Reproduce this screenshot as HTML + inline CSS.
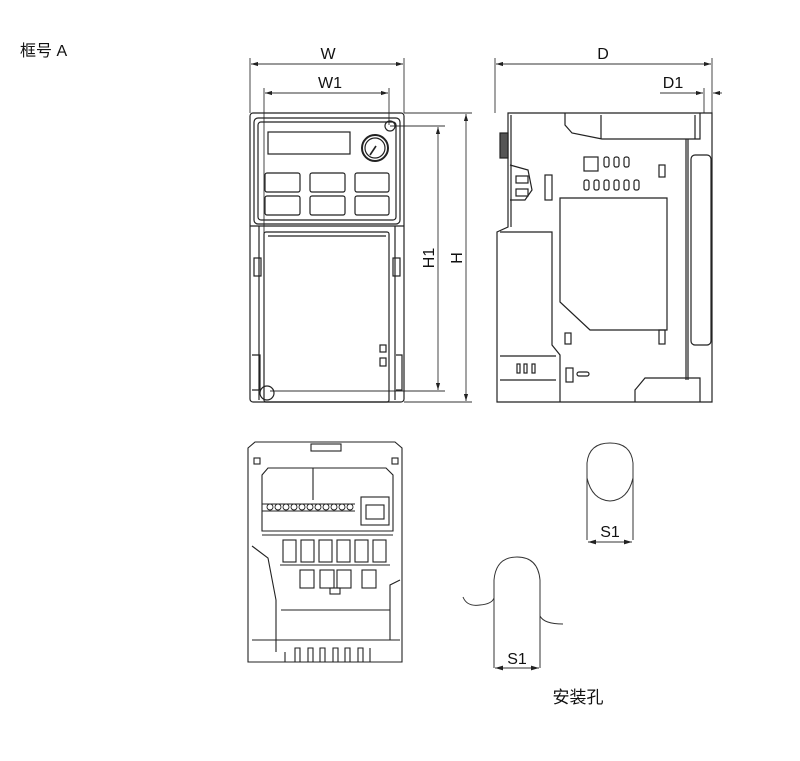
<!DOCTYPE html>
<html><head><meta charset="utf-8"><style>
html,body{margin:0;padding:0;background:#fff;}
svg{display:block;}
text{font-family:"Liberation Sans","Noto Sans CJK SC",sans-serif;fill:#111;}
</style></head><body>
<svg width="800" height="761" viewBox="0 0 800 761" xmlns="http://www.w3.org/2000/svg">
<defs>
<marker id="a" viewBox="0 0 10 6" refX="10" refY="3" markerWidth="8" markerHeight="5" orient="auto-start-reverse"><path d="M0,0L10,3L0,6z" fill="#222"/></marker>
</defs>
<text x="20" y="56" font-size="16">框号 A</text>

<!-- FRONT VIEW dims -->
<g stroke="#333" stroke-width="0.9" fill="none">
<line x1="250" y1="58" x2="250" y2="113"/><line x1="404" y1="58" x2="404" y2="113"/>
<line x1="251" y1="64" x2="403" y2="64" marker-start="url(#a)" marker-end="url(#a)"/>
<line x1="264" y1="88" x2="264" y2="400"/><line x1="389" y1="88" x2="389" y2="125"/>
<line x1="265" y1="93" x2="388" y2="93" marker-start="url(#a)" marker-end="url(#a)"/>
<line x1="390" y1="126" x2="445" y2="126"/><line x1="270" y1="391" x2="445" y2="391"/>
<line x1="438" y1="127" x2="438" y2="390" marker-start="url(#a)" marker-end="url(#a)"/>
<line x1="404" y1="113" x2="472" y2="113"/><line x1="404" y1="402" x2="472" y2="402"/>
<line x1="466" y1="114" x2="466" y2="401" marker-start="url(#a)" marker-end="url(#a)"/>
</g>
<text x="328" y="59" font-size="16" text-anchor="middle">W</text>
<text x="330" y="88" font-size="16" text-anchor="middle">W1</text>
<text transform="translate(434,258) rotate(-90)" font-size="16" text-anchor="middle">H1</text>
<text transform="translate(462,258) rotate(-90)" font-size="16" text-anchor="middle">H</text>

<!-- FRONT VIEW body -->
<g stroke="#222" stroke-width="1.2" fill="none">
<rect x="250" y="113" width="154" height="289" rx="3"/>
<rect x="254" y="118" width="146" height="106" rx="4"/>
<rect x="258" y="122" width="138" height="98" rx="3"/>
<rect x="268" y="132" width="82" height="22"/>
<circle cx="375" cy="148" r="13" stroke-width="2"/>
<circle cx="375" cy="148" r="10"/>
<line x1="370" y1="155" x2="376" y2="146" stroke-width="1.6"/>
<circle cx="390" cy="126" r="5"/>
<rect x="265" y="173" width="35" height="19" rx="2"/><rect x="310" y="173" width="35" height="19" rx="2"/><rect x="355" y="173" width="34" height="19" rx="2"/>
<rect x="265" y="196" width="35" height="19" rx="2"/><rect x="310" y="196" width="35" height="19" rx="2"/><rect x="355" y="196" width="34" height="19" rx="2"/>
<line x1="250" y1="226" x2="404" y2="226"/>
<rect x="264" y="232" width="125" height="170" rx="2"/>
<line x1="268" y1="236" x2="386" y2="236"/>
<rect x="254" y="258" width="7" height="18"/><rect x="393" y="258" width="7" height="18"/>
<line x1="259" y1="226" x2="259" y2="400"/><line x1="395" y1="226" x2="395" y2="400"/>
<path d="M252,355 h8 v35 h-8 M396,355 h6 v35 h-6"/>
<rect x="380" y="345" width="6" height="7"/><rect x="380" y="358" width="6" height="8"/>
<circle cx="267" cy="393" r="7"/>
</g>

<!-- SIDE VIEW dims -->
<g stroke="#333" stroke-width="0.9" fill="none">
<line x1="495" y1="58" x2="495" y2="113"/><line x1="712" y1="58" x2="712" y2="113"/>
<line x1="496" y1="64" x2="711" y2="64" marker-start="url(#a)" marker-end="url(#a)"/>
<line x1="704" y1="88" x2="704" y2="113"/>
<line x1="660" y1="93" x2="703" y2="93" marker-end="url(#a)"/>
<line x1="722" y1="93" x2="713" y2="93" marker-end="url(#a)"/>
</g>
<text x="603" y="59" font-size="16" text-anchor="middle">D</text>
<text x="673" y="88" font-size="16" text-anchor="middle">D1</text>

<!-- SIDE VIEW body -->
<g stroke="#222" stroke-width="1.2" fill="none">
<path d="M508,113 H712 V402 H497 V232 L508,227 Z"/>
<line x1="511" y1="115" x2="511" y2="227"/>
<rect x="500" y="133" width="8" height="25" fill="#555"/>
<path d="M565,113 V125 L572,133 L602,139 H700 V113"/>
<line x1="601" y1="115" x2="601" y2="139"/><line x1="695" y1="115" x2="695" y2="139"/>
<line x1="688" y1="139" x2="688" y2="380"/><line x1="686" y1="139" x2="686" y2="380"/>
<rect x="691" y="155" width="20" height="190" rx="4"/>
<path d="M510,165 L528,170 L532,190 L525,200 L510,200"/>
<rect x="516" y="176" width="12" height="7"/><rect x="516" y="189" width="12" height="7"/>
<rect x="545" y="175" width="7" height="25"/>
<rect x="584" y="157" width="14" height="14"/>
<rect x="604" y="157" width="5" height="10" rx="2"/><rect x="614" y="157" width="5" height="10" rx="2"/><rect x="624" y="157" width="5" height="10" rx="2"/>
<rect x="584" y="180" width="5" height="10" rx="2"/><rect x="594" y="180" width="5" height="10" rx="2"/><rect x="604" y="180" width="5" height="10" rx="2"/><rect x="614" y="180" width="5" height="10" rx="2"/><rect x="624" y="180" width="5" height="10" rx="2"/><rect x="634" y="180" width="5" height="10" rx="2"/>
<rect x="659" y="165" width="6" height="12"/>
<path d="M560,198 H667 V330 H590 L560,302 Z"/>
<path d="M500,232 H552 V345 L560,355 V402"/>
<rect x="659" y="330" width="6" height="14"/><rect x="565" y="333" width="6" height="11"/>
<path d="M500,356 H556 M500,380 H556"/>
<rect x="517" y="364" width="3" height="9"/><rect x="524" y="364" width="3" height="9"/><rect x="532" y="364" width="3" height="9"/>
<rect x="566" y="368" width="7" height="14"/><rect x="577" y="372" width="12" height="4" rx="2"/>
<path d="M635,402 V390 L645,378 H700 V402"/>
</g>

<!-- BOTTOM VIEW -->
<g stroke="#222" stroke-width="1.1" fill="none">
<path d="M248,448 L255,442 H395 L402,448 V662 H248 Z"/>
<rect x="311" y="444" width="30" height="7"/>
<rect x="254" y="458" width="6" height="6"/><rect x="392" y="458" width="6" height="6"/>
<path d="M262,475 L268,468 H386 L393,475 V531 H262 Z"/>
<line x1="262" y1="504" x2="355" y2="504"/><line x1="262" y1="511" x2="355" y2="511"/>
<g stroke-width="0.9">
<circle cx="270" cy="507" r="3"/><circle cx="278" cy="507" r="3"/><circle cx="286" cy="507" r="3"/><circle cx="294" cy="507" r="3"/><circle cx="302" cy="507" r="3"/><circle cx="310" cy="507" r="3"/><circle cx="318" cy="507" r="3"/><circle cx="326" cy="507" r="3"/><circle cx="334" cy="507" r="3"/><circle cx="342" cy="507" r="3"/><circle cx="350" cy="507" r="3"/>
</g>
<line x1="313" y1="468" x2="313" y2="500"/>
<rect x="361" y="497" width="28" height="28"/><rect x="366" y="505" width="18" height="14"/>
<line x1="262" y1="535" x2="393" y2="535"/>
<rect x="283" y="540" width="13" height="22"/><rect x="301" y="540" width="13" height="22"/><rect x="319" y="540" width="13" height="22"/><rect x="337" y="540" width="13" height="22"/><rect x="355" y="540" width="13" height="22"/><rect x="373" y="540" width="13" height="22"/>
<line x1="280" y1="565" x2="390" y2="565"/>
<rect x="300" y="570" width="14" height="18"/><rect x="320" y="570" width="14" height="18"/><rect x="337" y="570" width="14" height="18"/><rect x="362" y="570" width="14" height="18"/>
<rect x="330" y="588" width="10" height="6"/>
<path d="M252,546 L268,558 L276,600 V652 M400,580 L390,585 V640"/>
<line x1="281" y1="610" x2="390" y2="610"/>
<line x1="252" y1="640" x2="400" y2="640"/>
<path d="M285,662 V652 M295,662 V648 H300 V662 M308,662 V648 H313 V662 M320,662 V648 H325 V662 M333,662 V648 H338 V662 M345,662 V648 H350 V662 M358,662 V648 H363 V662 M370,662 V648"/>
</g>

<!-- MOUNTING HOLES -->
<g stroke="#333" stroke-width="1" fill="none">
<path d="M587,540 V463 Q589,443 610,443 Q631,443 633,463 V540"/>
<path d="M587,478 Q592,500 610,501 Q628,500 633,478"/>
<line x1="588" y1="542" x2="632" y2="542" marker-start="url(#a)" marker-end="url(#a)"/>
<path d="M494,668 V580 Q496,557 517,557 Q538,557 540,580 V668"/>
<path d="M463,597 Q467,607 480,605 Q492,604 494,598"/>
<path d="M540,616 Q544,624 563,624"/>
<line x1="495" y1="668" x2="539" y2="668" marker-start="url(#a)" marker-end="url(#a)"/>
</g>
<text x="610" y="537" font-size="16" text-anchor="middle">S1</text>
<text x="517" y="664" font-size="16" text-anchor="middle">S1</text>
<text x="578" y="703" font-size="17" text-anchor="middle">安装孔</text>
</svg>
</body></html>
